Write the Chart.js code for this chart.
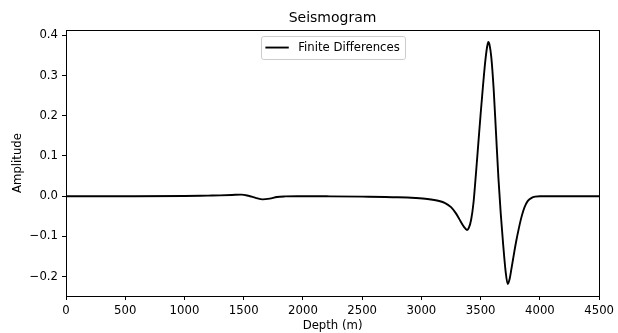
<!DOCTYPE html>
<html><head><meta charset="utf-8">
<script src="https://cdn.jsdelivr.net/npm/chart.js@4.4.1/dist/chart.umd.min.js"></script>
<style>html,body{margin:0;padding:0;background:#fff;} canvas{display:block;}</style>
</head><body>
<canvas id="c" width="618" height="333"></canvas>
<script>
const titleText = 'Seismogram';
const xLabel = 'Depth (m)';
const yLabel = 'Amplitude';
const seriesLabel = 'Finite Differences';

const depth = [0, 500, 1000, 1200, 1300, 1400, 1480, 1540, 1600, 1660, 1720, 1780, 1850, 1950,
  2200, 2500, 2800, 2950, 3050, 3150, 3200, 3250, 3290, 3320, 3350, 3370, 3385, 3400, 3420,
  3440, 3460, 3480, 3500, 3520, 3540, 3555, 3565, 3575, 3590, 3610, 3630, 3650, 3670, 3690,
  3710, 3728, 3745, 3760, 3780, 3800, 3820, 3840, 3860, 3880, 3900, 3930, 3960, 4000, 4200, 4500];
const amplitude = [0, 0, 0.0005, 0.0015, 0.002, 0.003, 0.004, 0.001, -0.004, -0.008, -0.006, -0.002, -0.0005, 0,
  -0.0003, -0.001, -0.0025, -0.0045, -0.007, -0.012, -0.017, -0.027, -0.042, -0.057, -0.072, -0.080, -0.084, -0.079, -0.058,
  -0.015, 0.055, 0.130, 0.205, 0.275, 0.338, 0.372, 0.383, 0.376, 0.345, 0.265, 0.155, 0.045, -0.045, -0.120,
  -0.185, -0.218, -0.205, -0.180, -0.145, -0.112, -0.083, -0.057, -0.036, -0.021, -0.011, -0.004, -0.001, 0, 0, 0];

const xTicks = [0, 500, 1000, 1500, 2000, 2500, 3000, 3500, 4000, 4500];
const yTicks = [-0.2, -0.1, 0.0, 0.1, 0.2, 0.3, 0.4];

const FONT = '"DejaVu Sans", "Liberation Sans", sans-serif';
const FS = 11.7;

const framePlugin = {
  id: 'frame',
  afterDatasetsDraw(chart) {
    const {ctx, chartArea: a} = chart;
    ctx.save();
    ctx.strokeStyle = '#000';
    ctx.lineWidth = 1;
    const l = Math.floor(a.left) + 0.5, r = Math.floor(a.right) + 0.5;
    const t = Math.floor(a.top) + 0.5, b = Math.floor(a.bottom) + 0.5;
    ctx.strokeRect(l, t, r - l, b - t);
    ctx.restore();
  }
};

const legendPlugin = {
  id: 'mplLegend',
  afterDatasetsDraw(chart) {
    const {ctx, chartArea: a} = chart;
    const ds = chart.data.datasets[0];
    ctx.save();
    ctx.font = FS + 'px ' + FONT;
    const tw = ctx.measureText(ds.label).width;
    const pad = 0.4 * FS, hl = 2 * FS, hp = 0.8 * FS;
    const w = pad + hl + hp + tw + pad;
    const h = 2 * pad + 1.2 * FS;
    const left = (a.left + a.right) / 2 - w / 2;
    const top = a.top + 0.5 * FS;
    const rad = 0.2 * FS;
    ctx.beginPath();
    ctx.roundRect(Math.round(left) + 0.5, Math.round(top) + 0.5, Math.round(w), Math.round(h), rad);
    ctx.fillStyle = 'rgba(255,255,255,0.8)';
    ctx.fill();
    ctx.strokeStyle = '#cccccc';
    ctx.lineWidth = 1;
    ctx.stroke();
    const cy = top + h / 2;
    ctx.beginPath();
    ctx.moveTo(left + pad, cy);
    ctx.lineTo(left + pad + hl, cy);
    ctx.strokeStyle = ds.borderColor;
    ctx.lineWidth = ds.borderWidth;
    ctx.stroke();
    ctx.fillStyle = '#000';
    ctx.textBaseline = 'middle';
    ctx.textAlign = 'left';
    ctx.fillText(ds.label, left + pad + hl + hp, cy + 0.5);
    ctx.restore();
  }
};

const fmt = v => (Math.abs(v) < 1e-9 ? '0.0' : v.toFixed(1)).replace('-', '\u2212');

new Chart(document.getElementById('c'), {
  type: 'line',
  data: {
    datasets: [{
      label: seriesLabel,
      data: depth.map((d, i) => ({x: d, y: amplitude[i]})),
      borderColor: '#000000',
      backgroundColor: '#000000',
      borderWidth: 1.9,
      pointRadius: 0,
      fill: false,
      cubicInterpolationMode: 'monotone'
    }]
  },
  options: {
    responsive: false,
    animation: false,
    devicePixelRatio: 1,
    layout: {padding: {left: 0, right: 17, top: 0, bottom: 0}},
    plugins: {
      legend: {display: false},
      tooltip: {enabled: false},
      title: {
        display: true, text: titleText, color: '#000', fullSize: false,
        font: {family: FONT, size: 14, weight: 'normal', lineHeight: 1.2},
        padding: {top: 9.5, bottom: 3.7}
      }
    },
    scales: {
      x: {
        type: 'linear', min: 0, max: 4500,
        afterBuildTicks: s => { s.ticks = xTicks.map(v => ({value: v})); },
        afterFit: s => { s.height = 37; },
        grid: {drawOnChartArea: false, drawTicks: true, tickLength: 4, color: '#000', lineWidth: 1},
        border: {display: true, color: '#000', width: 1},
        ticks: {color: '#000', font: {family: FONT, size: FS}, padding: 4, maxRotation: 0, autoSkip: false,
                callback: v => String(v)},
        title: {display: true, text: xLabel, color: '#000', font: {family: FONT, size: FS}, padding: {top: 0, bottom: 0.5}}
      },
      y: {
        type: 'linear', min: -0.248, max: 0.413,
        afterBuildTicks: s => { s.ticks = yTicks.map(v => ({value: v})); },
        afterFit: s => { s.width = 66; },
        grid: {drawOnChartArea: false, drawTicks: true, tickLength: 4, color: '#000', lineWidth: 1},
        border: {display: true, color: '#000', width: 1},
        ticks: {color: '#000', font: {family: FONT, size: FS}, padding: 4, autoSkip: false,
                callback: v => fmt(v)},
        title: {display: true, text: yLabel, color: '#000', font: {family: FONT, size: FS}, padding: {top: 11, bottom: 0}}
      }
    }
  },
  plugins: [framePlugin, legendPlugin]
});
</script>
</body></html>
